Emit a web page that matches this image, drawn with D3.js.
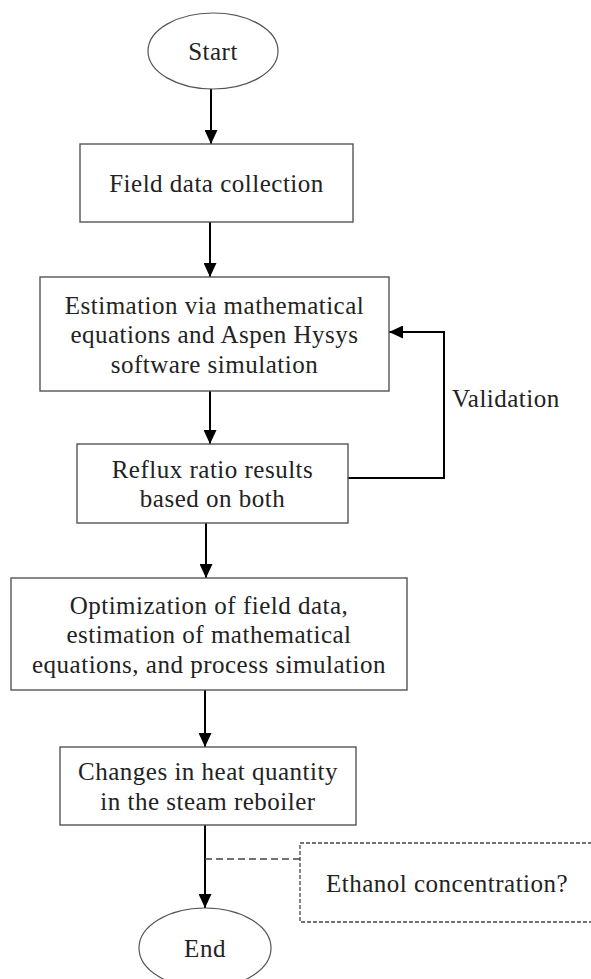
<!DOCTYPE html>
<html>
<head>
<meta charset="utf-8">
<script src="https://cdn.jsdelivr.net/npm/d3@7"></script>
<style>
  html, body { margin: 0; padding: 0; background: #fff; }
  svg { display: block; }
  text { font-family: 'Liberation Serif', 'Times New Roman', serif; fill: #222; letter-spacing: 0.5px; }
</style>
</head>
<body>
<div id="root"></div>
<script>
// step labels, top to bottom
const terminals = ['Start', 'End'];
const steps = [
  ['Field data collection'],
  ['Estimation via mathematical', 'equations and Aspen Hysys', 'software simulation'],
  ['Reflux ratio results', 'based on both'],
  ['Optimization of field data,', 'estimation of mathematical', 'equations, and process simulation'],
  ['Changes in heat quantity', 'in the steam reboiler'],
];
const loopLabel = 'Validation';
const noteLabel = 'Ethanol concentration?';

// layout (pixels)
const width = 591;
const height = 979;
const fontSize = 25;
const lineGap = 29.5;
const ellipses = [
  { cx: 213, cy: 51, rx: 65, ry: 38 },
  { cx: 205, cy: 948, rx: 66, ry: 40 },
];
const boxes = [
  { x0: 80, y0: 144, x1: 353, y1: 222 },
  { x0: 40, y0: 277, x1: 389, y1: 391 },
  { x0: 77, y0: 444, x1: 348, y1: 523 },
  { x0: 11, y0: 578, x1: 407, y1: 690 },
  { x0: 60, y0: 747, x1: 356, y1: 825 },
];
const arrowX = [211, 210, 210, 206, 205, 205];
const loopX = 444;
const noteBox = { x0: 300, y0: 843, x1: 620, y1: 922 };
const noteY = 859;

const svg = d3.select('#root').append('svg')
  .attr('width', width)
  .attr('height', height);

svg.append('defs').append('marker')
  .attr('id', 'head')
  .attr('viewBox', '0 0 14 13')
  .attr('refX', 14)
  .attr('refY', 6.5)
  .attr('markerWidth', 14)
  .attr('markerHeight', 13)
  .attr('markerUnits', 'userSpaceOnUse')
  .attr('orient', 'auto')
  .append('path')
  .attr('d', 'M0,0 L14,6.5 L0,13 Z')
  .attr('fill', '#000');

// connectors between consecutive shapes
const stops = [ellipses[0].cy + ellipses[0].ry]
  .concat(...boxes.map(b => [b.y0, b.y1]))
  .concat([ellipses[1].cy - ellipses[1].ry]);

svg.selectAll('line.flow')
  .data(arrowX)
  .enter()
  .append('line')
  .attr('class', 'flow')
  .attr('x1', d => d)
  .attr('x2', d => d)
  .attr('y1', (d, i) => stops[i * 2])
  .attr('y2', (d, i) => stops[i * 2 + 1])
  .attr('stroke', '#000')
  .attr('stroke-width', 2)
  .attr('marker-end', 'url(#head)');

// validation loop back
const fromBox = boxes[2];
const toBox = boxes[1];
const loopTopY = 332;
const loopBottomY = 478;
svg.append('path')
  .attr('d', d3.line()([
    [fromBox.x1, loopBottomY],
    [loopX, loopBottomY],
    [loopX, loopTopY],
    [toBox.x1, loopTopY],
  ]))
  .attr('fill', 'none')
  .attr('stroke', '#000')
  .attr('stroke-width', 2)
  .attr('marker-end', 'url(#head)');

svg.append('text')
  .attr('x', 452)
  .attr('y', 407)
  .attr('font-size', fontSize)
  .text(loopLabel);

// terminals
svg.selectAll('ellipse')
  .data(ellipses)
  .enter()
  .append('ellipse')
  .attr('cx', d => d.cx)
  .attr('cy', d => d.cy)
  .attr('rx', d => d.rx)
  .attr('ry', d => d.ry)
  .attr('fill', '#fff')
  .attr('stroke', '#555')
  .attr('stroke-width', 1.2);

svg.selectAll('text.term')
  .data(terminals)
  .enter()
  .append('text')
  .attr('class', 'term')
  .attr('x', (d, i) => ellipses[i].cx)
  .attr('y', (d, i) => ellipses[i].cy + 9)
  .attr('text-anchor', 'middle')
  .attr('font-size', fontSize)
  .text(d => d);

// process boxes
const stepG = svg.selectAll('g.step')
  .data(steps)
  .enter()
  .append('g')
  .attr('class', 'step');

stepG.append('rect')
  .attr('x', (d, i) => boxes[i].x0)
  .attr('y', (d, i) => boxes[i].y0)
  .attr('width', (d, i) => boxes[i].x1 - boxes[i].x0)
  .attr('height', (d, i) => boxes[i].y1 - boxes[i].y0)
  .attr('fill', '#fff')
  .attr('stroke', '#555')
  .attr('stroke-width', 1.4);

stepG.each(function (lines, i) {
  const b = boxes[i];
  const cx = (b.x0 + b.x1) / 2;
  const cy = (b.y0 + b.y1) / 2;
  d3.select(this).selectAll('text')
    .data(lines)
    .enter()
    .append('text')
    .attr('x', cx)
    .attr('y', (d, j) => cy + (j - (lines.length - 1) / 2) * lineGap + 9)
    .attr('text-anchor', 'middle')
    .attr('font-size', fontSize)
    .text(d => d);
});

// dashed note
svg.append('line')
  .attr('x1', arrowX[5])
  .attr('x2', noteBox.x0)
  .attr('y1', noteY)
  .attr('y2', noteY)
  .attr('stroke', '#444')
  .attr('stroke-width', 1.3)
  .attr('stroke-dasharray', '7,4');

svg.append('rect')
  .attr('x', noteBox.x0)
  .attr('y', noteBox.y0)
  .attr('width', noteBox.x1 - noteBox.x0)
  .attr('height', noteBox.y1 - noteBox.y0)
  .attr('fill', 'none')
  .attr('stroke', '#444')
  .attr('stroke-width', 1.3)
  .attr('stroke-dasharray', '4,2');

svg.append('text')
  .attr('x', 326)
  .attr('y', 892)
  .attr('font-size', fontSize)
  .text(noteLabel);
</script>
</body>
</html>
